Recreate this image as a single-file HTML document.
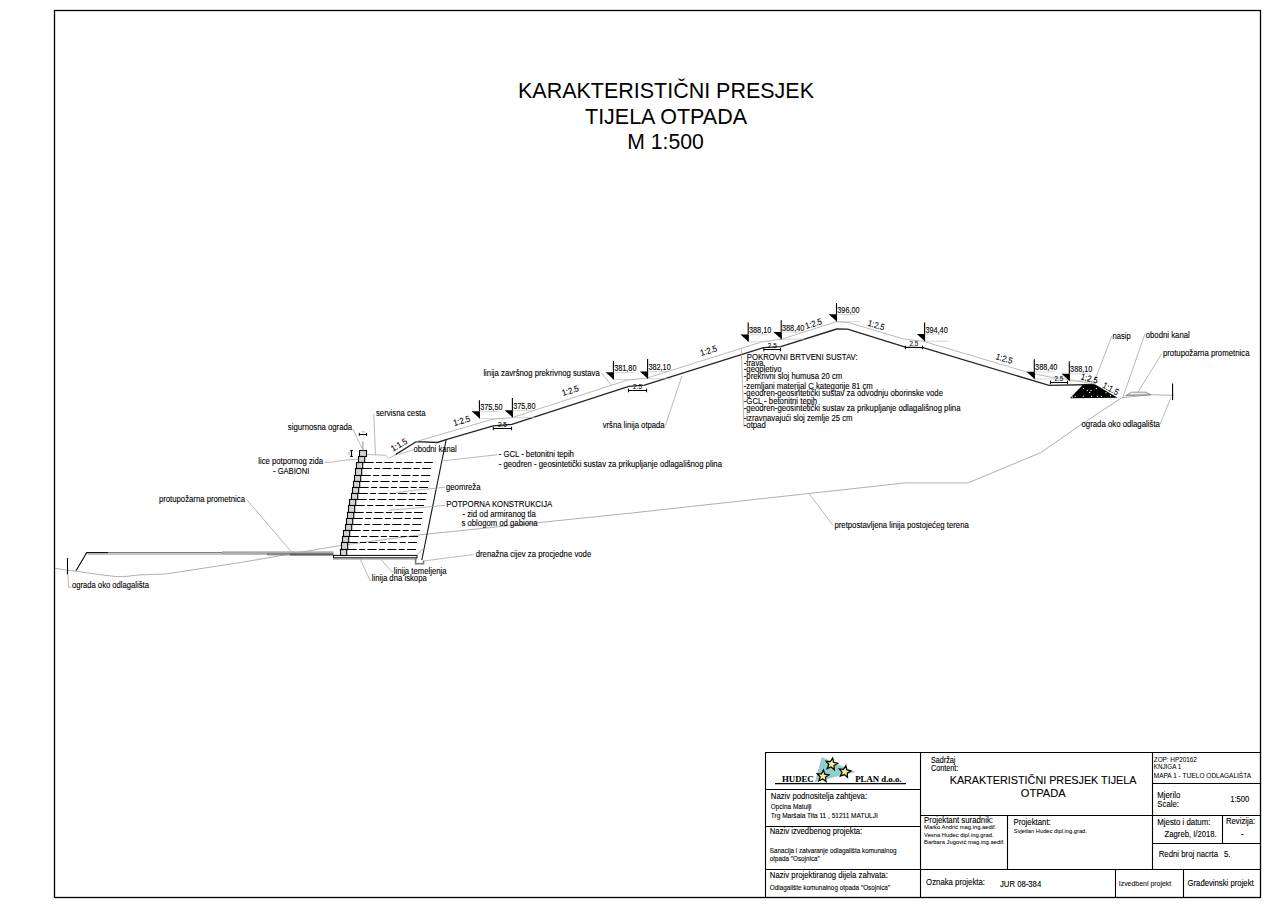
<!DOCTYPE html>
<html><head><meta charset="utf-8"><title>Karakteristični presjek tijela otpada</title>
<style>
html,body{margin:0;padding:0;background:#fff;width:1272px;height:910px;overflow:hidden}
svg{display:block}
text{font-family:"Liberation Sans",sans-serif;stroke:#000;paint-order:stroke}
</style></head><body>
<svg width="1272" height="910" viewBox="0 0 1272 910">
<rect x="54.5" y="10.5" width="1206" height="887" fill="none" stroke="#000" stroke-width="1.3"/>
<text x="666" y="98" font-size="21.5" style="stroke-width:0px;" textLength="296" lengthAdjust="spacingAndGlyphs" text-anchor="middle">KARAKTERISTIČNI PRESJEK</text>
<text x="666" y="124" font-size="21.5" style="stroke-width:0px;" textLength="162" lengthAdjust="spacingAndGlyphs" text-anchor="middle">TIJELA OTPADA</text>
<text x="665.5" y="148.6" font-size="21.5" style="stroke-width:0px;" textLength="76.5" lengthAdjust="spacingAndGlyphs" text-anchor="middle">M 1:500</text>
<polyline points="55,568.3 66.6,570.2 75.4,571.1 88,573 104.3,575.2 115.6,576.5 126.3,576.4 138.9,574.9 165.3,574 181.3,571.6 240,562.6 341.3,545.3 420,534.8 630,513.2 808.9,493.5 905.2,482.9 968,482.9 1040.8,452.6 1082,424 1121.8,397.7 1151,394.7 1173.4,395.4" stroke="#9a9a9a" stroke-width="0.8" fill="none"/>
<polyline points="808.9,493.5 833,525.3" stroke="#a0a0a0" stroke-width="0.75" fill="none"/>
<text x="834.4" y="528" font-size="7.75" style="stroke-width:0.1px;" textLength="134.4" lengthAdjust="spacingAndGlyphs" transform="translate(0 528) scale(1 1.13) translate(0 -528)">pretpostavljena linija postojećeg terena</text>
<line x1="67.5" y1="557.9" x2="67.5" y2="574.3" stroke="#000" stroke-width="1.1"/>
<polyline points="76,570.8 86.7,552.6 108.1,552.6" stroke="#111" stroke-width="1.1" fill="none"/>
<line x1="108" y1="552.6" x2="222" y2="552.6" stroke="#6e6e6e" stroke-width="1"/>
<line x1="87.5" y1="554.1" x2="222" y2="554.1" stroke="#aaa" stroke-width="1.2"/>
<rect x="222" y="551.3" width="45" height="3.5" fill="#aaa"/>
<rect x="267" y="551.3" width="66.5" height="1.7" fill="#aaa"/>
<rect x="267" y="553" width="23" height="2.4" fill="#8a8a8a"/>
<rect x="290" y="553.2" width="43.5" height="2.4" fill="#5e5e5e"/>
<polyline points="68,574.5 68.5,587.2 71.5,587.2" stroke="#a0a0a0" stroke-width="0.75" fill="none"/>
<text x="71.9" y="588.4" font-size="7.75" style="stroke-width:0.1px;" textLength="77.1" lengthAdjust="spacingAndGlyphs" transform="translate(0 588.4) scale(1 1.13) translate(0 -588.4)">ograda oko odlagališta</text>
<polyline points="246.9,499.7 291,551.5" stroke="#a0a0a0" stroke-width="0.75" fill="none"/>
<text x="158.9" y="502" font-size="7.75" style="stroke-width:0.1px;" textLength="86.1" lengthAdjust="spacingAndGlyphs" transform="translate(0 502) scale(1 1.13) translate(0 -502)">protupožarna prometnica</text>
<rect x="333.5" y="555.4" width="83.5" height="2.4" fill="#fff" stroke="#000" stroke-width="1"/>
<rect x="333" y="558.2" width="84" height="1.4" fill="#999"/>
<path d="M415.6,557.8 L415.6,563.8 L423.5,563.8 L423.5,560.6" fill="none" stroke="#777" stroke-width="1.6"/>
<polyline points="416.7,555.4 422.7,549" stroke="#a0a0a0" stroke-width="0.75" fill="none"/>
<rect x="359.50" y="450.50" width="7" height="6.00" fill="#d2d2d2" stroke="#000" stroke-width="1.1"/>
<rect x="358.50" y="456.50" width="6.2" height="6.00" fill="#d2d2d2" stroke="#000" stroke-width="1.1"/>
<rect x="356.50" y="462.50" width="6.2" height="6.00" fill="#d2d2d2" stroke="#000" stroke-width="1.1"/>
<rect x="355.50" y="468.50" width="6.2" height="7.00" fill="#d2d2d2" stroke="#000" stroke-width="1.1"/>
<rect x="354.50" y="475.50" width="6.2" height="6.00" fill="#d2d2d2" stroke="#000" stroke-width="1.1"/>
<rect x="353.50" y="481.50" width="6.2" height="6.00" fill="#d2d2d2" stroke="#000" stroke-width="1.1"/>
<rect x="352.50" y="487.50" width="6.2" height="6.00" fill="#d2d2d2" stroke="#000" stroke-width="1.1"/>
<rect x="351.50" y="493.50" width="6.2" height="6.00" fill="#d2d2d2" stroke="#000" stroke-width="1.1"/>
<rect x="349.50" y="499.50" width="6.2" height="6.00" fill="#d2d2d2" stroke="#000" stroke-width="1.1"/>
<rect x="348.50" y="505.50" width="6.2" height="7.00" fill="#d2d2d2" stroke="#000" stroke-width="1.1"/>
<rect x="347.50" y="512.50" width="6.2" height="6.00" fill="#d2d2d2" stroke="#000" stroke-width="1.1"/>
<rect x="346.50" y="518.50" width="6.2" height="6.00" fill="#d2d2d2" stroke="#000" stroke-width="1.1"/>
<rect x="345.50" y="524.50" width="6.2" height="6.00" fill="#d2d2d2" stroke="#000" stroke-width="1.1"/>
<rect x="343.50" y="530.50" width="6.2" height="6.00" fill="#d2d2d2" stroke="#000" stroke-width="1.1"/>
<rect x="342.50" y="536.50" width="6.2" height="6.00" fill="#d2d2d2" stroke="#000" stroke-width="1.1"/>
<rect x="341.50" y="542.50" width="6.2" height="7.00" fill="#d2d2d2" stroke="#000" stroke-width="1.1"/>
<rect x="340.50" y="549.50" width="6.2" height="6.00" fill="#d2d2d2" stroke="#000" stroke-width="1.1"/>
<line x1="364.70" y1="462.50" x2="432.80" y2="462.50" stroke="#000" stroke-width="1.05" stroke-dasharray="9,2.4,6,2.4"/>
<line x1="362.70" y1="468.50" x2="431.66" y2="468.50" stroke="#000" stroke-width="1.05" stroke-dasharray="9,2.4,6,2.4"/>
<line x1="361.70" y1="475.50" x2="430.33" y2="475.50" stroke="#000" stroke-width="1.05" stroke-dasharray="9,2.4,6,2.4"/>
<line x1="360.70" y1="481.50" x2="429.19" y2="481.50" stroke="#000" stroke-width="1.05" stroke-dasharray="9,2.4,6,2.4"/>
<line x1="359.70" y1="487.50" x2="428.05" y2="487.50" stroke="#000" stroke-width="1.05" stroke-dasharray="9,2.4,6,2.4"/>
<line x1="358.70" y1="493.50" x2="426.91" y2="493.50" stroke="#000" stroke-width="1.05" stroke-dasharray="9,2.4,6,2.4"/>
<line x1="357.70" y1="499.50" x2="425.77" y2="499.50" stroke="#000" stroke-width="1.05" stroke-dasharray="9,2.4,6,2.4"/>
<line x1="355.70" y1="505.50" x2="424.63" y2="505.50" stroke="#000" stroke-width="1.05" stroke-dasharray="9,2.4,6,2.4"/>
<line x1="354.70" y1="512.50" x2="423.30" y2="512.50" stroke="#000" stroke-width="1.05" stroke-dasharray="9,2.4,6,2.4"/>
<line x1="353.70" y1="518.50" x2="422.16" y2="518.50" stroke="#000" stroke-width="1.05" stroke-dasharray="9,2.4,6,2.4"/>
<line x1="352.70" y1="524.50" x2="421.02" y2="524.50" stroke="#000" stroke-width="1.05" stroke-dasharray="9,2.4,6,2.4"/>
<line x1="351.70" y1="530.50" x2="419.88" y2="530.50" stroke="#000" stroke-width="1.05" stroke-dasharray="9,2.4,6,2.4"/>
<line x1="349.70" y1="536.50" x2="418.74" y2="536.50" stroke="#000" stroke-width="1.05" stroke-dasharray="9,2.4,6,2.4"/>
<line x1="348.70" y1="542.50" x2="417.60" y2="542.50" stroke="#000" stroke-width="1.05" stroke-dasharray="9,2.4,6,2.4"/>
<line x1="347.70" y1="549.50" x2="416.27" y2="549.50" stroke="#000" stroke-width="1.05" stroke-dasharray="9,2.4,6,2.4"/>
<polyline points="446.2,439.5 421.8,560" stroke="#111" stroke-width="1.1" fill="none"/>
<polyline points="366.8,454.5 385.7,455.3 388.8,458.4 395.1,454.9" stroke="#a0a0a0" stroke-width="0.75" fill="none"/>
<polyline points="395.5,454.6 416.1,441.7 437.4,442.5 446.1,439.6 493.1,425.9 511.8,424.4 628.8,386.3 644.5,385.2 763.5,347.6 780.8,346.6 836.7,329 847.5,329.2 905.4,347.1 923,347.7 1049.1,385.4 1094.3,384.5" stroke="#262626" stroke-width="1.35" fill="none" stroke-linejoin="round"/>
<polyline points="416.2,441.6 493,419.1 511.5,417.8 627.5,380 647.8,377.8 763,341.5 781,339.4 836.7,321.6 848.8,322.7 904.4,339.2 923,341.2 1030.4,373.1 1050,377 1069,379.5 1095.3,384.2" stroke="#a8a8a8" stroke-width="0.8" fill="none"/>
<polygon points="1069.9,398.2 1083.1,384.6 1095.2,384.6 1117.6,397.8" fill="#000" stroke="none" stroke-width="0"/>
<rect x="1082.95" y="388.05" width="1.1" height="1.1" fill="#fff"/>
<rect x="1086.75" y="389.95" width="1.1" height="1.1" fill="#fff"/>
<rect x="1090.45" y="389.95" width="1.1" height="1.1" fill="#fff"/>
<rect x="1089.05" y="391.85" width="1.1" height="1.1" fill="#fff"/>
<rect x="1095.85" y="388.05" width="1.1" height="1.1" fill="#fff"/>
<rect x="1074.75" y="395.75" width="1.1" height="1.1" fill="#fff"/>
<rect x="1082.75" y="395.75" width="1.1" height="1.1" fill="#fff"/>
<rect x="1090.95" y="395.75" width="1.1" height="1.1" fill="#fff"/>
<rect x="1096.85" y="395.75" width="1.1" height="1.1" fill="#fff"/>
<rect x="1100.85" y="395.75" width="1.1" height="1.1" fill="#fff"/>
<rect x="1105.45" y="392.25" width="1.1" height="1.1" fill="#fff"/>
<rect x="1071.75" y="396.45" width="1.1" height="1.1" fill="#fff"/>
<rect x="1109.95" y="395.15" width="1.1" height="1.1" fill="#fff"/>
<path d="M1125.6,395.6 L1131.5,392.2 L1145.7,392.2 L1151,394.9 Z" fill="none" stroke="#777" stroke-width="0.8"/>
<polyline points="1127,394.5 1150,394.0" stroke="#999" stroke-width="0.7" fill="none"/>
<line x1="1172.6" y1="383.5" x2="1172.6" y2="399.9" stroke="#000" stroke-width="1.1"/>
<text x="1112.6" y="338.7" font-size="7.75" style="stroke-width:0.1px;" textLength="18.2" lengthAdjust="spacingAndGlyphs" transform="translate(0 338.7) scale(1 1.13) translate(0 -338.7)">nasip</text>
<polyline points="1112,335.7 1095.3,379" stroke="#a0a0a0" stroke-width="0.75" fill="none"/>
<text x="1145.7" y="337.6" font-size="7.75" style="stroke-width:0.1px;" textLength="44.1" lengthAdjust="spacingAndGlyphs" transform="translate(0 337.6) scale(1 1.13) translate(0 -337.6)">obodni kanal</text>
<polyline points="1145,333.8 1122.8,397.6" stroke="#a0a0a0" stroke-width="0.75" fill="none"/>
<text x="1162.9" y="355.8" font-size="7.75" style="stroke-width:0.1px;" textLength="86.6" lengthAdjust="spacingAndGlyphs" transform="translate(0 355.8) scale(1 1.13) translate(0 -355.8)">protupožarna prometnica</text>
<polyline points="1162,353.4 1137.5,392.7" stroke="#a0a0a0" stroke-width="0.75" fill="none"/>
<text x="1081.5" y="427.2" font-size="7.75" style="stroke-width:0.1px;" textLength="78.4" lengthAdjust="spacingAndGlyphs" transform="translate(0 427.2) scale(1 1.13) translate(0 -427.2)">ograda oko odlagališta</text>
<polyline points="1160,424.2 1170.9,397.6" stroke="#a0a0a0" stroke-width="0.75" fill="none"/>
<line x1="479.4" y1="400.2" x2="479.4" y2="418.6" stroke="#000" stroke-width="1.1"/>
<polygon points="471.59999999999997,411.3 479.7,411.3 479.7,418.6" fill="#000" stroke="none" stroke-width="0"/>
<line x1="479.4" y1="411.5" x2="499.4" y2="411.5" stroke="#bbb" stroke-width="0.6"/>
<line x1="479.4" y1="418.6" x2="503.4" y2="418.6" stroke="#bbb" stroke-width="0.6"/>
<text x="480.2" y="410.0" font-size="7.4" style="stroke-width:0.1px;" textLength="22.3" lengthAdjust="spacingAndGlyphs" transform="translate(0 410.0) scale(1 1.13) translate(0 -410.0)">375,50</text>
<line x1="512.4" y1="398.0" x2="512.4" y2="417.5" stroke="#000" stroke-width="1.1"/>
<polygon points="504.59999999999997,410.2 512.6999999999999,410.2 512.6999999999999,417.5" fill="#000" stroke="none" stroke-width="0"/>
<line x1="512.4" y1="410.4" x2="532.4" y2="410.4" stroke="#bbb" stroke-width="0.6"/>
<line x1="512.4" y1="417.5" x2="536.4" y2="417.5" stroke="#bbb" stroke-width="0.6"/>
<text x="513.1999999999999" y="408.9" font-size="7.4" style="stroke-width:0.1px;" textLength="22.3" lengthAdjust="spacingAndGlyphs" transform="translate(0 408.9) scale(1 1.13) translate(0 -408.9)">375,80</text>
<line x1="613.4" y1="361.0" x2="613.4" y2="379.5" stroke="#000" stroke-width="1.1"/>
<polygon points="605.6,372.2 613.6999999999999,372.2 613.6999999999999,379.5" fill="#000" stroke="none" stroke-width="0"/>
<line x1="613.4" y1="372.4" x2="633.4" y2="372.4" stroke="#bbb" stroke-width="0.6"/>
<line x1="613.4" y1="379.5" x2="637.4" y2="379.5" stroke="#bbb" stroke-width="0.6"/>
<text x="614.1999999999999" y="370.9" font-size="7.4" style="stroke-width:0.1px;" textLength="22.3" lengthAdjust="spacingAndGlyphs" transform="translate(0 370.9) scale(1 1.13) translate(0 -370.9)">381,80</text>
<line x1="647.6" y1="359.1" x2="647.6" y2="378.7" stroke="#000" stroke-width="1.1"/>
<polygon points="639.8000000000001,371.4 647.9,371.4 647.9,378.7" fill="#000" stroke="none" stroke-width="0"/>
<line x1="647.6" y1="371.59999999999997" x2="667.6" y2="371.59999999999997" stroke="#bbb" stroke-width="0.6"/>
<line x1="647.6" y1="378.7" x2="671.6" y2="378.7" stroke="#bbb" stroke-width="0.6"/>
<text x="648.4" y="370.09999999999997" font-size="7.4" style="stroke-width:0.1px;" textLength="22.3" lengthAdjust="spacingAndGlyphs" transform="translate(0 370.09999999999997) scale(1 1.13) translate(0 -370.09999999999997)">382,10</text>
<line x1="748.2" y1="322.5" x2="748.2" y2="341.8" stroke="#000" stroke-width="1.1"/>
<polygon points="740.4000000000001,334.5 748.5,334.5 748.5,341.8" fill="#000" stroke="none" stroke-width="0"/>
<line x1="748.2" y1="334.7" x2="768.2" y2="334.7" stroke="#bbb" stroke-width="0.6"/>
<line x1="748.2" y1="341.8" x2="772.2" y2="341.8" stroke="#bbb" stroke-width="0.6"/>
<text x="749.0" y="333.2" font-size="7.4" style="stroke-width:0.1px;" textLength="22.3" lengthAdjust="spacingAndGlyphs" transform="translate(0 333.2) scale(1 1.13) translate(0 -333.2)">388,10</text>
<line x1="781.2" y1="320.2" x2="781.2" y2="339.2" stroke="#000" stroke-width="1.1"/>
<polygon points="773.4000000000001,331.9 781.5,331.9 781.5,339.2" fill="#000" stroke="none" stroke-width="0"/>
<line x1="781.2" y1="332.09999999999997" x2="801.2" y2="332.09999999999997" stroke="#bbb" stroke-width="0.6"/>
<line x1="781.2" y1="339.2" x2="805.2" y2="339.2" stroke="#bbb" stroke-width="0.6"/>
<text x="782.0" y="330.59999999999997" font-size="7.4" style="stroke-width:0.1px;" textLength="22.3" lengthAdjust="spacingAndGlyphs" transform="translate(0 330.59999999999997) scale(1 1.13) translate(0 -330.59999999999997)">388,40</text>
<line x1="836.5" y1="303.0" x2="836.5" y2="321.6" stroke="#000" stroke-width="1.1"/>
<polygon points="828.7,314.3 836.8,314.3 836.8,321.6" fill="#000" stroke="none" stroke-width="0"/>
<line x1="836.5" y1="314.5" x2="856.5" y2="314.5" stroke="#bbb" stroke-width="0.6"/>
<line x1="836.5" y1="321.6" x2="860.5" y2="321.6" stroke="#bbb" stroke-width="0.6"/>
<text x="837.3" y="313.0" font-size="7.4" style="stroke-width:0.1px;" textLength="22.3" lengthAdjust="spacingAndGlyphs" transform="translate(0 313.0) scale(1 1.13) translate(0 -313.0)">396,00</text>
<line x1="924.6" y1="322.5" x2="924.6" y2="341.2" stroke="#000" stroke-width="1.1"/>
<polygon points="916.8000000000001,333.9 924.9,333.9 924.9,341.2" fill="#000" stroke="none" stroke-width="0"/>
<line x1="924.6" y1="334.09999999999997" x2="944.6" y2="334.09999999999997" stroke="#bbb" stroke-width="0.6"/>
<line x1="924.6" y1="341.2" x2="948.6" y2="341.2" stroke="#bbb" stroke-width="0.6"/>
<text x="925.4" y="332.59999999999997" font-size="7.4" style="stroke-width:0.1px;" textLength="22.3" lengthAdjust="spacingAndGlyphs" transform="translate(0 332.59999999999997) scale(1 1.13) translate(0 -332.59999999999997)">394,40</text>
<line x1="1034.3" y1="359.3" x2="1034.3" y2="379.0" stroke="#000" stroke-width="1.1"/>
<polygon points="1026.5,371.7 1034.6,371.7 1034.6,379.0" fill="#000" stroke="none" stroke-width="0"/>
<line x1="1034.3" y1="371.9" x2="1054.3" y2="371.9" stroke="#bbb" stroke-width="0.6"/>
<line x1="1034.3" y1="379.0" x2="1058.3" y2="379.0" stroke="#bbb" stroke-width="0.6"/>
<text x="1035.1" y="370.4" font-size="7.4" style="stroke-width:0.1px;" textLength="22.3" lengthAdjust="spacingAndGlyphs" transform="translate(0 370.4) scale(1 1.13) translate(0 -370.4)">388,40</text>
<line x1="1069.3" y1="361.3" x2="1069.3" y2="381.0" stroke="#000" stroke-width="1.1"/>
<polygon points="1061.5,373.7 1069.6,373.7 1069.6,381.0" fill="#000" stroke="none" stroke-width="0"/>
<line x1="1069.3" y1="373.9" x2="1089.3" y2="373.9" stroke="#bbb" stroke-width="0.6"/>
<line x1="1069.3" y1="381.0" x2="1093.3" y2="381.0" stroke="#bbb" stroke-width="0.6"/>
<text x="1070.1" y="372.4" font-size="7.4" style="stroke-width:0.1px;" textLength="22.3" lengthAdjust="spacingAndGlyphs" transform="translate(0 372.4) scale(1 1.13) translate(0 -372.4)">388,10</text>
<line x1="493.3" y1="428.5" x2="511.6" y2="428.5" stroke="#000" stroke-width="1"/>
<line x1="493.3" y1="426.7" x2="493.3" y2="430.3" stroke="#000" stroke-width="1"/>
<line x1="511.6" y1="426.7" x2="511.6" y2="430.3" stroke="#000" stroke-width="1"/>
<text x="502.45000000000005" y="426.6" font-size="6.4" style="stroke-width:0.05px;" text-anchor="middle">2.5</text>
<line x1="628.5" y1="390.5" x2="646.6" y2="390.5" stroke="#000" stroke-width="1"/>
<line x1="628.5" y1="388.7" x2="628.5" y2="392.3" stroke="#000" stroke-width="1"/>
<line x1="646.6" y1="388.7" x2="646.6" y2="392.3" stroke="#000" stroke-width="1"/>
<text x="637.55" y="388.6" font-size="6.4" style="stroke-width:0.05px;" text-anchor="middle">2.5</text>
<line x1="763.9" y1="349.5" x2="780.6" y2="349.5" stroke="#000" stroke-width="1"/>
<line x1="763.9" y1="347.7" x2="763.9" y2="351.3" stroke="#000" stroke-width="1"/>
<line x1="780.6" y1="347.7" x2="780.6" y2="351.3" stroke="#000" stroke-width="1"/>
<text x="772.25" y="347.6" font-size="6.4" style="stroke-width:0.05px;" text-anchor="middle">2.5</text>
<line x1="905.4" y1="347.5" x2="922.5" y2="347.5" stroke="#000" stroke-width="1"/>
<line x1="905.4" y1="345.7" x2="905.4" y2="349.3" stroke="#000" stroke-width="1"/>
<line x1="922.5" y1="345.7" x2="922.5" y2="349.3" stroke="#000" stroke-width="1"/>
<text x="913.95" y="345.6" font-size="6.4" style="stroke-width:0.05px;" text-anchor="middle">2.5</text>
<line x1="1050.4" y1="382.5" x2="1067.5" y2="382.5" stroke="#000" stroke-width="1"/>
<line x1="1050.4" y1="380.7" x2="1050.4" y2="384.3" stroke="#000" stroke-width="1"/>
<line x1="1067.5" y1="380.7" x2="1067.5" y2="384.3" stroke="#000" stroke-width="1"/>
<text x="1058.95" y="380.6" font-size="6.4" style="stroke-width:0.05px;" text-anchor="middle">2.5</text>
<text x="462.5" y="423.6" font-size="7.75" style="stroke-width:0.1px;" text-anchor="middle" transform="rotate(-16 462.5 423.6) translate(0 423.6) scale(1 1.13) translate(0 -423.6)">1:2.5</text>
<text x="400.5" y="447.5" font-size="7.75" style="stroke-width:0.1px;" text-anchor="middle" transform="rotate(-30 400.5 447.5) translate(0 447.5) scale(1 1.13) translate(0 -447.5)">1:1.5</text>
<text x="571.2" y="393.5" font-size="7.75" style="stroke-width:0.1px;" text-anchor="middle" transform="rotate(-17.5 571.2 393.5) translate(0 393.5) scale(1 1.13) translate(0 -393.5)">1:2.5</text>
<text x="709.5" y="353.5" font-size="7.75" style="stroke-width:0.1px;" text-anchor="middle" transform="rotate(-17.5 709.5 353.5) translate(0 353.5) scale(1 1.13) translate(0 -353.5)">1:2.5</text>
<text x="814.5" y="326.5" font-size="7.75" style="stroke-width:0.1px;" text-anchor="middle" transform="rotate(-17.5 814.5 326.5) translate(0 326.5) scale(1 1.13) translate(0 -326.5)">1:2.5</text>
<text x="875.5" y="328.0" font-size="7.75" style="stroke-width:0.1px;" text-anchor="middle" transform="rotate(16.5 875.5 328.0) translate(0 328.0) scale(1 1.13) translate(0 -328.0)">1:2.5</text>
<text x="1003.5" y="361.5" font-size="7.75" style="stroke-width:0.1px;" text-anchor="middle" transform="rotate(16.5 1003.5 361.5) translate(0 361.5) scale(1 1.13) translate(0 -361.5)">1:2.5</text>
<text x="1088.5" y="381.5" font-size="7.75" style="stroke-width:0.1px;" text-anchor="middle" transform="rotate(15 1088.5 381.5) translate(0 381.5) scale(1 1.13) translate(0 -381.5)">1:2.5</text>
<text x="1109.2" y="391.3" font-size="7.75" style="stroke-width:0.1px;" text-anchor="middle" transform="rotate(30 1109.2 391.3) translate(0 391.3) scale(1 1.13) translate(0 -391.3)">1:1.5</text>
<text x="287.8" y="430.5" font-size="7.75" style="stroke-width:0.1px;" textLength="64.4" lengthAdjust="spacingAndGlyphs" transform="translate(0 430.5) scale(1 1.13) translate(0 -430.5)">sigurnosna ograda</text>
<polyline points="352.8,429 362.9,450" stroke="#a0a0a0" stroke-width="0.75" fill="none"/>
<line x1="362.9" y1="441.3" x2="362.9" y2="450.3" stroke="#bbb" stroke-width="1.6"/>
<rect x="361.8" y="431.2" width="3" height="1.4" fill="#c6b9a8"/>
<rect x="348.3" y="451.8" width="1.2" height="3.6" fill="#c6b9a8"/>
<line x1="359.3" y1="434.5" x2="366.6" y2="434.5" stroke="#000" stroke-width="1"/>
<line x1="359.3" y1="432.9" x2="359.3" y2="435.9" stroke="#000" stroke-width="1"/>
<line x1="366.6" y1="432.9" x2="366.6" y2="435.9" stroke="#000" stroke-width="1"/>
<line x1="351.5" y1="450.3" x2="351.5" y2="456.8" stroke="#000" stroke-width="1.2"/>
<line x1="350.2" y1="450.5" x2="352.8" y2="450.5" stroke="#000" stroke-width="1.1"/>
<line x1="350.2" y1="456.5" x2="352.8" y2="456.5" stroke="#000" stroke-width="1.1"/>
<text x="258.2" y="464.3" font-size="7.75" style="stroke-width:0.1px;" textLength="64.9" lengthAdjust="spacingAndGlyphs" transform="translate(0 464.3) scale(1 1.13) translate(0 -464.3)">lice potpornog zida</text>
<text x="273" y="474.5" font-size="7.75" style="stroke-width:0.1px;" textLength="36.3" lengthAdjust="spacingAndGlyphs" transform="translate(0 474.5) scale(1 1.13) translate(0 -474.5)">- GABIONI</text>
<polyline points="324,462.2 331.8,462.2 344,460.2 358.3,459.2" stroke="#a0a0a0" stroke-width="0.75" fill="none"/>
<text x="376" y="416.5" font-size="7.75" style="stroke-width:0.1px;" textLength="49.5" lengthAdjust="spacingAndGlyphs" transform="translate(0 416.5) scale(1 1.13) translate(0 -416.5)">servisna cesta</text>
<polyline points="373.7,413.8 375.5,454.5" stroke="#a0a0a0" stroke-width="0.75" fill="none"/>
<text x="413.4" y="452.2" font-size="7.75" style="stroke-width:0.1px;" textLength="43.3" lengthAdjust="spacingAndGlyphs" transform="translate(0 452.2) scale(1 1.13) translate(0 -452.2)">obodni kanal</text>
<polyline points="398.9,454.5 413,449.8" stroke="#a0a0a0" stroke-width="0.75" fill="none"/>
<text x="371.7" y="581.5" font-size="7.75" style="stroke-width:0.1px;" textLength="55.1" lengthAdjust="spacingAndGlyphs" transform="translate(0 581.5) scale(1 1.13) translate(0 -581.5)">linija dna iskopa</text>
<text x="393.7" y="573.8" font-size="7.75" style="stroke-width:0.1px;" textLength="52.9" lengthAdjust="spacingAndGlyphs" transform="translate(0 573.8) scale(1 1.13) translate(0 -573.8)">linija temeljenja</text>
<polyline points="360.2,559 370,580.4 371.5,580.6" stroke="#a0a0a0" stroke-width="0.75" fill="none"/>
<polyline points="380,558.4 391.5,571.6 393.5,571.8" stroke="#a0a0a0" stroke-width="0.75" fill="none"/>
<text x="498.7" y="456.8" font-size="7.75" style="stroke-width:0.1px;" textLength="75.2" lengthAdjust="spacingAndGlyphs" transform="translate(0 456.8) scale(1 1.13) translate(0 -456.8)">- GCL - betonitni tepih</text>
<text x="498.7" y="466.8" font-size="7.75" style="stroke-width:0.1px;" textLength="223.3" lengthAdjust="spacingAndGlyphs" transform="translate(0 466.8) scale(1 1.13) translate(0 -466.8)">- geodren - geosintetički sustav za prikupljanje odlagališnog plina</text>
<polyline points="443.3,460.8 497.8,454.7" stroke="#a0a0a0" stroke-width="0.75" fill="none"/>
<text x="446" y="489.8" font-size="7.75" style="stroke-width:0.1px;" textLength="34.5" lengthAdjust="spacingAndGlyphs" transform="translate(0 489.8) scale(1 1.13) translate(0 -489.8)">geomreža</text>
<polyline points="396,492.4 445,487.2" stroke="#a0a0a0" stroke-width="0.75" fill="none"/>
<text x="446.3" y="506.6" font-size="7.75" style="stroke-width:0.1px;" textLength="106" lengthAdjust="spacingAndGlyphs" transform="translate(0 506.6) scale(1 1.13) translate(0 -506.6)">POTPORNA KONSTRUKCIJA</text>
<polyline points="389,510.3 445,505.4" stroke="#a0a0a0" stroke-width="0.75" fill="none"/>
<text x="462.4" y="516.6" font-size="7.75" style="stroke-width:0.1px;" textLength="73.5" lengthAdjust="spacingAndGlyphs" transform="translate(0 516.6) scale(1 1.13) translate(0 -516.6)">- zid od armiranog tla</text>
<text x="461.5" y="525.6" font-size="7.75" style="stroke-width:0.1px;" textLength="76.1" lengthAdjust="spacingAndGlyphs" transform="translate(0 525.6) scale(1 1.13) translate(0 -525.6)">s oblogom od gabiona</text>
<text x="475.7" y="556.7" font-size="7.75" style="stroke-width:0.1px;" textLength="115.5" lengthAdjust="spacingAndGlyphs" transform="translate(0 556.7) scale(1 1.13) translate(0 -556.7)">drenažna cijev za procjedne vode</text>
<polyline points="423.5,561 473.6,554.5" stroke="#a0a0a0" stroke-width="0.75" fill="none"/>
<text x="483.4" y="376" font-size="7.75" style="stroke-width:0.1px;" textLength="116.3" lengthAdjust="spacingAndGlyphs" transform="translate(0 376) scale(1 1.13) translate(0 -376)">linija završnog prekrivnog sustava</text>
<polyline points="601.6,373.2 611.5,385.3" stroke="#a0a0a0" stroke-width="0.75" fill="none"/>
<text x="602.7" y="427.9" font-size="7.75" style="stroke-width:0.1px;" textLength="61.9" lengthAdjust="spacingAndGlyphs" transform="translate(0 427.9) scale(1 1.13) translate(0 -427.9)">vršna linija otpada</text>
<polyline points="665,426.5 681.9,376" stroke="#a0a0a0" stroke-width="0.75" fill="none"/>
<polyline points="741.3,349 744,427.5" stroke="#a0a0a0" stroke-width="0.75" fill="none"/>
<text x="746.7" y="359.7" font-size="7.75" style="stroke-width:0.1px;" textLength="111" lengthAdjust="spacingAndGlyphs" transform="translate(0 359.7) scale(1 1.13) translate(0 -359.7)">POKROVNI BRTVENI SUSTAV:</text>
<text x="743.8" y="365.6" font-size="7.75" style="stroke-width:0.1px;" transform="translate(0 365.6) scale(1 1.13) translate(0 -365.6)">-trava</text>
<text x="743.8" y="372.5" font-size="7.75" style="stroke-width:0.1px;" transform="translate(0 372.5) scale(1 1.13) translate(0 -372.5)">-geopletivo</text>
<text x="743.8" y="379.4" font-size="7.75" style="stroke-width:0.1px;" transform="translate(0 379.4) scale(1 1.13) translate(0 -379.4)">-prekrivni sloj humusa 20 cm</text>
<text x="743.8" y="388.6" font-size="7.75" style="stroke-width:0.1px;" transform="translate(0 388.6) scale(1 1.13) translate(0 -388.6)">-zemljani materijal C kategorije 81 cm</text>
<text x="743.8" y="396.5" font-size="7.75" style="stroke-width:0.1px;" textLength="199.2" lengthAdjust="spacingAndGlyphs" transform="translate(0 396.5) scale(1 1.13) translate(0 -396.5)">-geodren-geosintetički sustav za odvodnju oborinske vode</text>
<text x="743.8" y="404" font-size="7.75" style="stroke-width:0.1px;" transform="translate(0 404) scale(1 1.13) translate(0 -404)">-GCL - betonitni tepih</text>
<text x="743.8" y="411.4" font-size="7.75" style="stroke-width:0.1px;" textLength="216.7" lengthAdjust="spacingAndGlyphs" transform="translate(0 411.4) scale(1 1.13) translate(0 -411.4)">-geodren-geosintetički sustav za prikupljanje odlagališnog plina</text>
<text x="743.8" y="420.7" font-size="7.75" style="stroke-width:0.1px;" transform="translate(0 420.7) scale(1 1.13) translate(0 -420.7)">-izravnavajući sloj zemlje 25 cm</text>
<text x="743.8" y="427.9" font-size="7.75" style="stroke-width:0.1px;" transform="translate(0 427.9) scale(1 1.13) translate(0 -427.9)">-otpad</text>
<line x1="765" y1="752.5" x2="1261" y2="752.5" stroke="#000" stroke-width="1.1"/>
<line x1="765.5" y1="752" x2="765.5" y2="898" stroke="#000" stroke-width="1.1"/>
<line x1="920.5" y1="752" x2="920.5" y2="898" stroke="#000" stroke-width="1.1"/>
<line x1="765" y1="789.5" x2="921" y2="789.5" stroke="#000" stroke-width="1.1"/>
<line x1="765" y1="826.5" x2="921" y2="826.5" stroke="#000" stroke-width="1.1"/>
<line x1="765" y1="869.5" x2="1261" y2="869.5" stroke="#000" stroke-width="1.1"/>
<line x1="920" y1="815.5" x2="1261" y2="815.5" stroke="#000" stroke-width="1.1"/>
<line x1="1007.5" y1="815" x2="1007.5" y2="870" stroke="#000" stroke-width="1.1"/>
<line x1="1152.5" y1="752" x2="1152.5" y2="870" stroke="#000" stroke-width="1.1"/>
<line x1="1152" y1="783.5" x2="1261" y2="783.5" stroke="#000" stroke-width="1.1"/>
<line x1="1152" y1="843.5" x2="1261" y2="843.5" stroke="#000" stroke-width="1.1"/>
<line x1="1222.5" y1="815" x2="1222.5" y2="844" stroke="#000" stroke-width="1.1"/>
<line x1="1115.5" y1="869" x2="1115.5" y2="898" stroke="#000" stroke-width="1.1"/>
<line x1="1183.5" y1="869" x2="1183.5" y2="898" stroke="#000" stroke-width="1.1"/>
<polygon points="821.7,756.9 855.2,772.1 815,781.9" fill="#93cdcb" stroke="none" stroke-width="0"/>
<polygon points="832.68,758.09 833.61,762.26 837.74,763.34 834.06,765.51 834.32,769.77 831.12,766.95 827.14,768.51 828.84,764.59 826.13,761.29 830.38,761.69" fill="#f3ef8c" stroke="#000" stroke-width="1.25" stroke-linejoin="miter"/>
<polygon points="845.88,765.69 846.81,769.86 850.94,770.94 847.26,773.11 847.52,777.37 844.32,774.55 840.34,776.11 842.04,772.19 839.33,768.89 843.58,769.29" fill="#f3ef8c" stroke="#000" stroke-width="1.25" stroke-linejoin="miter"/>
<polygon points="823.44,770.02 824.73,774.09 828.94,774.81 825.47,777.29 826.09,781.51 822.66,778.98 818.83,780.88 820.18,776.83 817.19,773.78 821.46,773.81" fill="#f3ef8c" stroke="#000" stroke-width="1.25" stroke-linejoin="miter"/>
<text x="782" y="782.2" font-size="8.8" style="stroke-width:0.1px;font-family:'Liberation Serif';font-weight:bold;" textLength="31.7" lengthAdjust="spacingAndGlyphs">HUDEC</text>
<text x="855.2" y="782.2" font-size="8.8" style="stroke-width:0.1px;font-family:'Liberation Serif';font-weight:bold;" textLength="46.3" lengthAdjust="spacingAndGlyphs">PLAN d.o.o.</text>
<line x1="775" y1="783.6" x2="906" y2="783.6" stroke="#000" stroke-width="1.3"/>
<text x="770.8" y="799" font-size="7.8" style="stroke-width:0.1px;" textLength="96.3" lengthAdjust="spacingAndGlyphs" transform="translate(0 799) scale(1 1.13) translate(0 -799)">Naziv podnositelja zahtjeva:</text>
<text x="770.8" y="808.9" font-size="6.9" style="stroke-width:0.1px;" textLength="40.7" lengthAdjust="spacingAndGlyphs" transform="translate(0 808.9) scale(1 1.13) translate(0 -808.9)">Općina Matulji</text>
<text x="770.8" y="817.7" font-size="6.9" style="stroke-width:0.1px;" textLength="107" lengthAdjust="spacingAndGlyphs" transform="translate(0 817.7) scale(1 1.13) translate(0 -817.7)">Trg Maršala Tita 11 , 51211 MATULJI</text>
<text x="769.8" y="833.8" font-size="7.8" style="stroke-width:0.1px;" textLength="92.4" lengthAdjust="spacingAndGlyphs" transform="translate(0 833.8) scale(1 1.13) translate(0 -833.8)">Naziv izvedbenog projekta:</text>
<text x="769.8" y="853.1" font-size="6.9" style="stroke-width:0.1px;" textLength="126.8" lengthAdjust="spacingAndGlyphs" transform="translate(0 853.1) scale(1 1.13) translate(0 -853.1)">Sanacija i zatvaranje odlagališta komunalnog</text>
<text x="769.8" y="861" font-size="6.9" style="stroke-width:0.1px;" textLength="50" lengthAdjust="spacingAndGlyphs" transform="translate(0 861) scale(1 1.13) translate(0 -861)">otpada "Osojnica"</text>
<text x="769.8" y="877.7" font-size="7.8" style="stroke-width:0.1px;" textLength="118" lengthAdjust="spacingAndGlyphs" transform="translate(0 877.7) scale(1 1.13) translate(0 -877.7)">Naziv projektiranog dijela zahvata:</text>
<text x="769.8" y="890.4" font-size="6.9" style="stroke-width:0.1px;" textLength="120.3" lengthAdjust="spacingAndGlyphs" transform="translate(0 890.4) scale(1 1.13) translate(0 -890.4)">Odlagalište komunalnog otpada "Osojnica"</text>
<text x="931" y="763.1" font-size="7.2" style="stroke-width:0.1px;" transform="translate(0 763.1) scale(1 1.13) translate(0 -763.1)">Sadržaj</text>
<text x="931" y="771.5" font-size="7.2" style="stroke-width:0.1px;" transform="translate(0 771.5) scale(1 1.13) translate(0 -771.5)">Content:</text>
<text x="949.7" y="783.5" font-size="10.8" style="stroke-width:0.1px;" textLength="186.8" lengthAdjust="spacingAndGlyphs">KARAKTERISTIČNI PRESJEK TIJELA</text>
<text x="1020.8" y="796.5" font-size="10.8" style="stroke-width:0.1px;" textLength="44.8" lengthAdjust="spacingAndGlyphs">OTPADA</text>
<text x="924.1" y="822.6" font-size="7.8" style="stroke-width:0.1px;" transform="translate(0 822.6) scale(1 1.13) translate(0 -822.6)">Projektant suradnik:</text>
<text x="924.1" y="829.3" font-size="5.7" style="stroke-width:0.05px;" textLength="72.2" lengthAdjust="spacingAndGlyphs">Marko Andrić mag.ing.aedif.</text>
<text x="924.1" y="837.3" font-size="5.7" style="stroke-width:0.05px;" textLength="69.4" lengthAdjust="spacingAndGlyphs">Vesna Hudec dipl.ing.grad.</text>
<text x="924.1" y="844.3" font-size="5.7" style="stroke-width:0.05px;" textLength="80.6" lengthAdjust="spacingAndGlyphs">Barbara Jugović mag.ing.aedif.</text>
<text x="1013.5" y="824.8" font-size="7.8" style="stroke-width:0.1px;" transform="translate(0 824.8) scale(1 1.13) translate(0 -824.8)">Projektant:</text>
<text x="1013.8" y="832.5" font-size="5.6" style="stroke-width:0.05px;" textLength="73.1" lengthAdjust="spacingAndGlyphs">Svjetlan Hudec dipl.ing.grad.</text>
<text x="926.1" y="885.5" font-size="7.8" style="stroke-width:0.1px;" transform="translate(0 885.5) scale(1 1.13) translate(0 -885.5)">Oznaka projekta:</text>
<text x="1000" y="886.7" font-size="7.8" style="stroke-width:0.1px;" textLength="41.2" lengthAdjust="spacingAndGlyphs" transform="translate(0 886.7) scale(1 1.13) translate(0 -886.7)">JUR 08-384</text>
<text x="1118.75" y="886" font-size="6.5" style="stroke-width:0.05px;" textLength="52.5" lengthAdjust="spacingAndGlyphs" transform="translate(0 886) scale(1 1.13) translate(0 -886)">Izvedbeni projekt</text>
<text x="1187.5" y="885.6" font-size="7.8" style="stroke-width:0.1px;" textLength="66.2" lengthAdjust="spacingAndGlyphs" transform="translate(0 885.6) scale(1 1.13) translate(0 -885.6)">Građevinski projekt</text>
<text x="1153.75" y="761.7" font-size="6.3" style="stroke-width:0.05px;" textLength="43.1" lengthAdjust="spacingAndGlyphs">ZOP: HP20162</text>
<text x="1153.75" y="769.4" font-size="6.3" style="stroke-width:0.05px;" textLength="27.5" lengthAdjust="spacingAndGlyphs">KNJIGA 1</text>
<text x="1153.75" y="777.7" font-size="6.3" style="stroke-width:0.05px;" textLength="97.3" lengthAdjust="spacingAndGlyphs">MAPA 1 - TIJELO ODLAGALIŠTA</text>
<text x="1157.3" y="798.1" font-size="7.8" style="stroke-width:0.1px;" transform="translate(0 798.1) scale(1 1.13) translate(0 -798.1)">Mjerilo</text>
<text x="1157.3" y="807.5" font-size="7.8" style="stroke-width:0.1px;" transform="translate(0 807.5) scale(1 1.13) translate(0 -807.5)">Scale:</text>
<text x="1230.2" y="802.3" font-size="7.8" style="stroke-width:0.1px;" textLength="19.2" lengthAdjust="spacingAndGlyphs" transform="translate(0 802.3) scale(1 1.13) translate(0 -802.3)">1:500</text>
<text x="1157.3" y="825.2" font-size="7.8" style="stroke-width:0.1px;" textLength="53.1" lengthAdjust="spacingAndGlyphs" transform="translate(0 825.2) scale(1 1.13) translate(0 -825.2)">Mjesto i datum:</text>
<text x="1164.6" y="837.1" font-size="7.8" style="stroke-width:0.1px;" textLength="52.1" lengthAdjust="spacingAndGlyphs" transform="translate(0 837.1) scale(1 1.13) translate(0 -837.1)">Zagreb, I/2018.</text>
<text x="1226" y="824.2" font-size="7.8" style="stroke-width:0.1px;" textLength="29.2" lengthAdjust="spacingAndGlyphs" transform="translate(0 824.2) scale(1 1.13) translate(0 -824.2)">Revizija:</text>
<text x="1241" y="837" font-size="7.8" style="stroke-width:0.1px;" transform="translate(0 837) scale(1 1.13) translate(0 -837)">-</text>
<text x="1158.75" y="857.5" font-size="7.8" style="stroke-width:0.1px;" transform="translate(0 857.5) scale(1 1.13) translate(0 -857.5)">Redni broj nacrta</text>
<text x="1224" y="857.5" font-size="7.8" style="stroke-width:0.1px;" transform="translate(0 857.5) scale(1 1.13) translate(0 -857.5)">5.</text>
</svg>
</body></html>
